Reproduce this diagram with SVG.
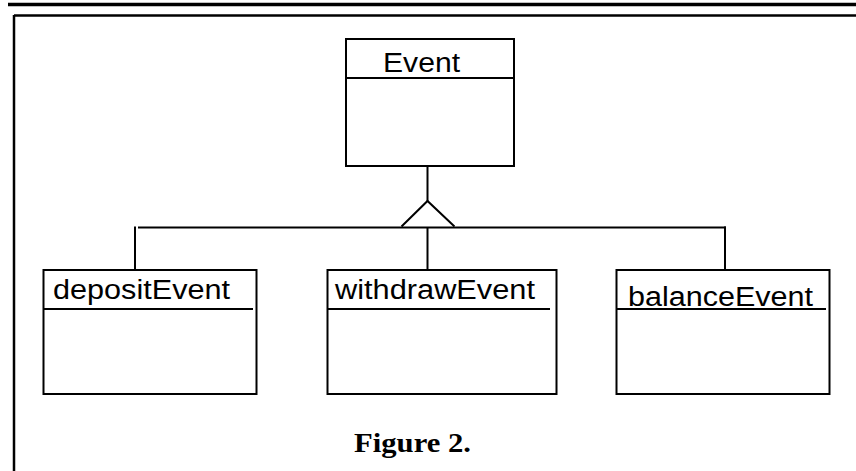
<svg xmlns="http://www.w3.org/2000/svg" width="856" height="471" viewBox="0 0 856 471">
<style>
.box{fill:#fff;stroke:#000;stroke-width:2}
.ln{stroke:#000;stroke-width:2;fill:none}
.lbl{font-family:"Liberation Sans",Arial,sans-serif;font-size:27px;fill:#000}
.cap{font-family:"Liberation Serif","Times New Roman",serif;font-size:27px;font-weight:bold;fill:#000}
</style>
<rect width="856" height="471" fill="#fff"/>
<g id="frame">
<line x1="8" y1="4.5" x2="856" y2="4.5" stroke="#000" stroke-width="3.5"/>
<line x1="14" y1="15.5" x2="856" y2="15.5" stroke="#000" stroke-width="2.5"/>
<line x1="14" y1="15" x2="14" y2="471" stroke="#000" stroke-width="2.5"/>
</g>
<g id="connectors">
<line class="ln" x1="427.5" y1="166" x2="427.5" y2="201"/>
<polyline class="ln" points="401.5,226.5 427.5,201 454.5,226.5"/>
<line class="ln" x1="138" y1="227.5" x2="726" y2="227.5"/>
<line class="ln" x1="135" y1="226.5" x2="135" y2="270"/>
<line class="ln" x1="427.5" y1="227.5" x2="427.5" y2="270"/>
<line class="ln" x1="725" y1="226.5" x2="725" y2="270"/>
</g>
<g id="Event">
<rect class="box" x="346" y="39" width="168" height="127"/>
<line class="ln" x1="346" y1="78" x2="514" y2="78"/>
<text class="lbl" x="383" y="72" textLength="77" lengthAdjust="spacingAndGlyphs">Event</text>
</g>
<g id="depositEvent">
<rect class="box" x="43.5" y="270" width="213" height="124"/>
<line class="ln" x1="43.5" y1="309" x2="253" y2="309"/>
<text class="lbl" x="53" y="299" textLength="177" lengthAdjust="spacingAndGlyphs">depositEvent</text>
</g>
<g id="withdrawEvent">
<rect class="box" x="327.5" y="270" width="229" height="124"/>
<line class="ln" x1="327.5" y1="309" x2="550" y2="309"/>
<text class="lbl" x="335" y="299" textLength="200" lengthAdjust="spacingAndGlyphs">withdrawEvent</text>
</g>
<g id="balanceEvent">
<rect class="box" x="616.5" y="270" width="213" height="124"/>
<line class="ln" x1="616.5" y1="309" x2="826" y2="309"/>
<text class="lbl" x="628" y="306" textLength="185" lengthAdjust="spacingAndGlyphs">balanceEvent</text>
</g>
<text class="cap" x="354" y="452" textLength="117" lengthAdjust="spacingAndGlyphs">Figure 2.</text>
</svg>
